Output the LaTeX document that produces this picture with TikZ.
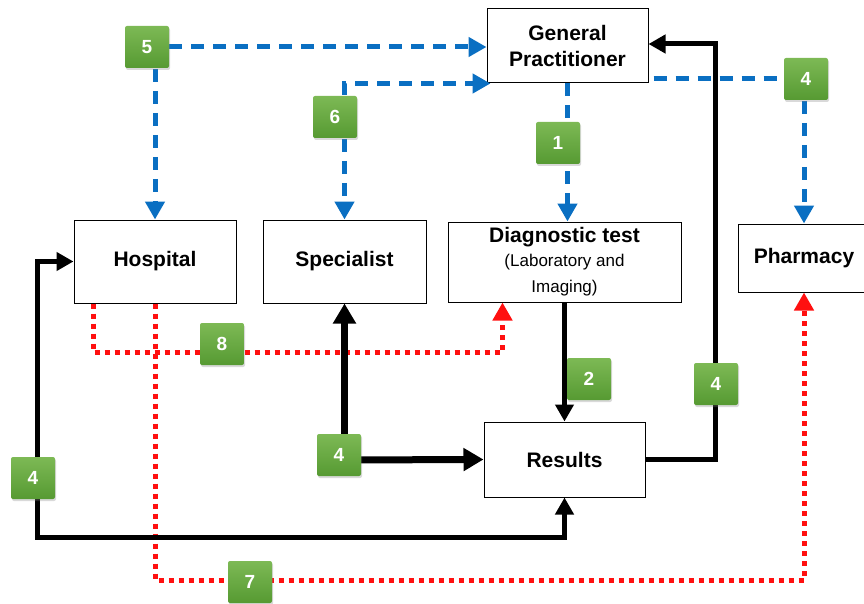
\documentclass[tikz,border=0pt]{standalone}
\usepackage{fontspec}
\setmainfont{Liberation Sans}
\usepackage{xcolor}
\usepackage{tikz}
\usetikzlibrary{calc,arrows.meta,shadows}
\definecolor{flowblue}{HTML}{0A6FC2}
\definecolor{flowred}{HTML}{FF1010}
\definecolor{badgetop}{HTML}{7DB955}
\definecolor{badgebot}{HTML}{569A32}
\newcommand{\subfont}{\fontsize{17}{22}\selectfont\mdseries}
\tikzset{
  box/.style={draw=black, line width=1pt, fill=white, align=center, inner sep=0pt, font=\fontsize{21}{26}\selectfont\bfseries},
  badge/.style={rounded corners=2pt, minimum width=44pt, minimum height=42pt, top color=badgetop, bottom color=badgebot, text=white, font=\fontsize{19}{20}\selectfont\bfseries, drop shadow={shadow xshift=1pt, shadow yshift=-2pt, opacity=0.3}},
  bline/.style={draw=flowblue, line width=5pt, dash pattern=on 13pt off 9pt, -{Triangle[length=18pt,width=19pt]}},
  kline/.style={draw=black, line width=5pt, -{Triangle[length=17pt,width=18pt]}},
  rline/.style={draw=flowred, line width=5pt, dash pattern=on 5pt off 5pt, -{Triangle[length=18pt,width=19pt]}}
}

\begin{document}
\begin{tikzpicture}[x=1pt,y=-1pt]
  \useasboundingbox (0,0) rectangle (864,604);

  % boxes
  \node[box, minimum width=161pt, minimum height=74pt] (gp) at (567.5,46) {General\\Practitioner};
  \node[box, minimum width=162pt, minimum height=83pt] (hosp) at (155,261.5) {Hospital};
  \node[box, minimum width=163pt, minimum height=83pt] (spec) at (344.5,261.5) {Specialist};
  \node[box, minimum width=233pt, minimum height=80pt] (diag) at (564.5,262) {Diagnostic test\\[-2pt]\subfont (Laboratory and\\\subfont Imaging)};
  \node[box, minimum width=132pt, minimum height=68pt] (pharm) at (804,258) {Pharmacy};
  \node[box, minimum width=161pt, minimum height=75pt] (res) at (564.5,459.5) {Results};

  % blue dashed links
  \coordinate (b5) at (147,47);
  \coordinate (b6) at (335,117);
  \coordinate (b4a) at (806,79);
  \draw[bline] (b5) -- (b5 -| gp.west);
  \draw[bline] (hosp.north |- b5) -- (hosp.north);
  \draw[bline] (spec.north |- b6) |- ($(gp.south west)+(4,0)$);
  \draw[bline] (spec.north |- b6) -- (spec.north);
  \draw[bline] (gp.south) -- (gp.south |- diag.north);
  \draw[bline, -] ($(gp.east |- b4a)+(5,0)$) -- (b4a);
  \draw[bline] (pharm.north |- b4a) -- (pharm.north);

  % red dotted links
  \coordinate (r8) at (93,352);
  \coordinate (r7) at (155,580);
  \draw[rline] (hosp.south -| r8) -- (r8) -| ($(diag.south west)+(55,0)$);
  \draw[rline] (hosp.south) -- (r7) -| (pharm.south);

  % black links
  \coordinate (rc) at (715,44);
  \coordinate (lb) at (37,537);
  \draw[kline] (res.east) -| (rc) -- (rc -| gp.east);
  \draw[kline] (diag.south) -- (diag.south |- res.north);
  \draw[kline, line width=7pt, -{Triangle[length=20pt,width=22pt]}] (spec.south |- 0,455) -- (spec.south);
  \draw[kline, line width=7pt, -{Triangle[length=20pt,width=22pt]}] (339,460) -- (res.west);
  \draw[kline, {Triangle[length=17pt,width=18pt]}-{Triangle[length=17pt,width=18pt]}] (hosp.west) -| (lb) -| (res.south);

  % badges
  \node[badge] (n5) at (b5) {5};
  \node[badge] (n6) at (b6) {6};
  \node[badge] (n1) at (558,143) {1};
  \node[badge] (n4a) at (b4a) {4};
  \node[badge] (n8) at (222,344) {8};
  \node[badge] (n2) at (589,379) {2};
  \node[badge] (n4b) at (716,384) {4};
  \node[badge] (n4c) at (339,455) {4};
  \node[badge] (n4d) at (33,478) {4};
  \node[badge] (n7) at (250,582) {7};
\end{tikzpicture}
\end{document}
